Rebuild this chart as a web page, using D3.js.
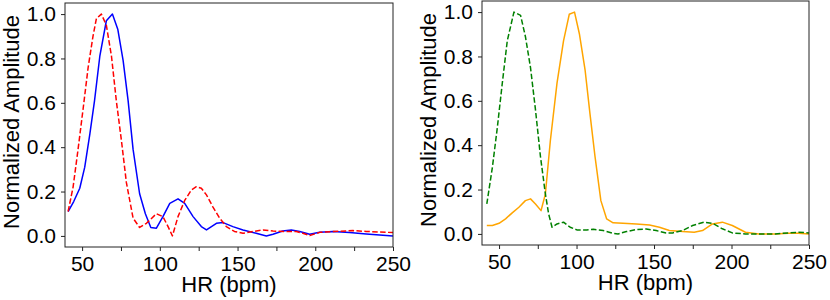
<!DOCTYPE html>
<html>
<head>
<meta charset="utf-8">
<script src="https://cdn.jsdelivr.net/npm/d3@7"></script>
<style>
  body { margin: 0; background: #fff; }
  svg text { font-family: "Liberation Sans", Arial, sans-serif; fill: #000; }
</style>
</head>
<body>
<div class="chart"></div>
<script>
"use strict";

// left panel: blue solid + red dashed
var blueHR  = [41, 44.6, 48.5, 51.7, 55, 58, 61.4, 65.6, 69.5, 73, 76.4, 79.6, 82.8, 87, 90.7, 94.2, 97.8, 102, 106.4, 111.7, 116, 121.4, 126.7, 130, 136.4, 140.7, 147, 153.5, 162, 168.5, 172.8, 179, 184.6, 190, 196.4, 202.8, 211.4, 222, 232.8, 250];
var blueAmp = [0.11, 0.155, 0.215, 0.31, 0.46, 0.61, 0.81, 0.97, 1.0, 0.93, 0.79, 0.61, 0.39, 0.19, 0.10, 0.038, 0.035, 0.087, 0.147, 0.167, 0.147, 0.087, 0.042, 0.027, 0.057, 0.06, 0.042, 0.027, 0.012, 0.0, 0.0075, 0.022, 0.027, 0.02, 0.0075, 0.016, 0.02, 0.015, 0.009, 0.0];

var redHR  = [41, 44.2, 47.4, 50.6, 53.9, 57, 59.2, 62.4, 65.6, 68.9, 72, 75.3, 78.5, 82.8, 87, 91.4, 97.8, 102, 105.3, 108.1, 111.7, 116, 120.3, 123.5, 126.7, 130, 134.2, 138.5, 142.8, 148, 153.5, 160, 166.4, 172.8, 181.4, 187.8, 192, 196.4, 202.8, 211.4, 224.3, 232.8, 250];
var redAmp = [0.11, 0.22, 0.39, 0.57, 0.76, 0.9, 0.98, 1.0, 0.95, 0.81, 0.61, 0.43, 0.24, 0.08, 0.038, 0.057, 0.10, 0.087, 0.042, 0.0, 0.087, 0.16, 0.207, 0.222, 0.215, 0.185, 0.13, 0.08, 0.042, 0.02, 0.012, 0.02, 0.027, 0.022, 0.02, 0.02, 0.012, 0.0015, 0.016, 0.02, 0.024, 0.02, 0.015];

// right panel: orange solid + green dashed
var orangeHR  = [42.1, 45.7, 50, 54.2, 58.5, 62.8, 67, 70.3, 73.5, 77.1, 79.9, 83.1, 87.4, 91.6, 95.3, 98.7, 101.9, 105.5, 108.7, 111.9, 115.7, 119.4, 123.6, 130, 138.6, 147.1, 153.5, 159.9, 168.5, 175.9, 181.3, 187.7, 194.1, 200.5, 209, 217.6, 228.2, 236.8, 243.2, 250];
var orangeAmp = [0.038, 0.038, 0.048, 0.068, 0.095, 0.12, 0.15, 0.158, 0.135, 0.105, 0.18, 0.42, 0.68, 0.87, 0.99, 1.0, 0.90, 0.74, 0.54, 0.35, 0.15, 0.068, 0.05, 0.048, 0.045, 0.04, 0.03, 0.015, 0.0105, 0.0075, 0.015, 0.045, 0.053, 0.038, 0.0075, 0.0, 0.0, 0.003, 0.003, 0.0];

var greenHR  = [42.1, 45.7, 48.9, 52.1, 55.3, 59.6, 63.9, 67, 70.3, 73.5, 76.7, 79.9, 82, 84.2, 87.4, 91.6, 95.9, 100.2, 106.6, 110.8, 117.2, 123.6, 126.8, 132.2, 138.6, 145, 151.4, 157.8, 162, 168.5, 174.9, 182.3, 187.7, 194.1, 200.5, 209, 219.7, 228.2, 236.8, 243.2, 250];
var greenAmp = [0.135, 0.30, 0.48, 0.68, 0.87, 1.0, 0.985, 0.89, 0.75, 0.56, 0.35, 0.18, 0.09, 0.03, 0.045, 0.053, 0.03, 0.018, 0.018, 0.021, 0.015, 0.003, 0.0, 0.0105, 0.0195, 0.0225, 0.015, 0.0045, 0.0045, 0.015, 0.038, 0.053, 0.048, 0.023, 0.0045, 0.0, 0.0, 0.0, 0.0045, 0.0075, 0.0045];

var xTicks = [50, 100, 150, 200, 250];
var xMinor = [75, 125, 175, 225];
var yTicks = [0.0, 0.2, 0.4, 0.6, 0.8, 1.0];

var width = 830,
    height = 300;

var svg = d3.select(".chart")
          .append("svg")
          .attr("width", width)
          .attr("height", height);

function panel(box, series){

  var x = d3.scaleLinear().domain([39, 250]).range([box.left, box.right]);
  var y = d3.scaleLinear().domain([-0.05, 1.05]).range([box.bottom, box.top]);

  var g = svg.append("g");

  var line = d3.line()
      .x(function(d){ return x(d[0]); })
      .y(function(d){ return y(d[1]); });

  series.forEach(function(s){
    g.append("path")
        .datum(d3.zip(s.hr, s.amp))
        .attr("d", line)
        .attr("fill", "none")
        .attr("stroke", s.color)
        .attr("stroke-width", 1.5)
        .attr("stroke-linejoin", "round")
        .attr("stroke-dasharray", s.dash ? "5.5,2.4" : null);
  });

  // box
  g.append("rect")
      .attr("x", box.left)
      .attr("y", box.top)
      .attr("width", box.right - box.left)
      .attr("height", box.bottom - box.top)
      .attr("fill", "none")
      .attr("stroke", "#222")
      .attr("stroke-width", 1);

  g.append("g")
      .attr("transform", "translate(0," + box.bottom + ")")
      .call(d3.axisBottom(x).tickValues(xTicks).tickSize(4).tickPadding(5).tickFormat(d3.format("d")));

  g.append("g")
      .attr("transform", "translate(0," + box.bottom + ")")
      .call(d3.axisBottom(x).tickValues(xMinor).tickSize(4).tickFormat(""));

  g.append("g")
      .attr("transform", "translate(" + box.left + ",0)")
      .call(d3.axisLeft(y).tickValues(yTicks).tickSize(4).tickPadding(5).tickFormat(d3.format(".1f")));

  g.selectAll(".domain").remove();
  g.selectAll(".tick line").attr("stroke", "#222");
  g.selectAll(".tick text")
      .style("font-family", "Liberation Sans, Arial, sans-serif")
      .style("font-size", "21px")
      .attr("fill", "#000");

  g.append("text")
      .attr("x", (box.left + box.right) / 2)
      .attr("y", box.bottom + 45)
      .style("text-anchor", "middle")
      .style("font-size", "22px")
      .text("HR (bpm)");

  g.append("text")
      .attr("transform", "translate(" + (box.left - 46) + "," + ((box.top + box.bottom) / 2 - 3) + ") rotate(-90)")
      .style("text-anchor", "middle")
      .style("font-size", "22px")
      .text("Normalized Amplitude");
}

panel({left: 65, right: 393, top: 3, bottom: 247}, [
  {hr: blueHR, amp: blueAmp, color: "#0000ff", dash: false},
  {hr: redHR, amp: redAmp, color: "#ff0000", dash: true}
]);

panel({left: 482, right: 809, top: 1, bottom: 245}, [
  {hr: orangeHR, amp: orangeAmp, color: "#ffa500", dash: false},
  {hr: greenHR, amp: greenAmp, color: "#008000", dash: true}
]);

</script>
</body>
</html>
